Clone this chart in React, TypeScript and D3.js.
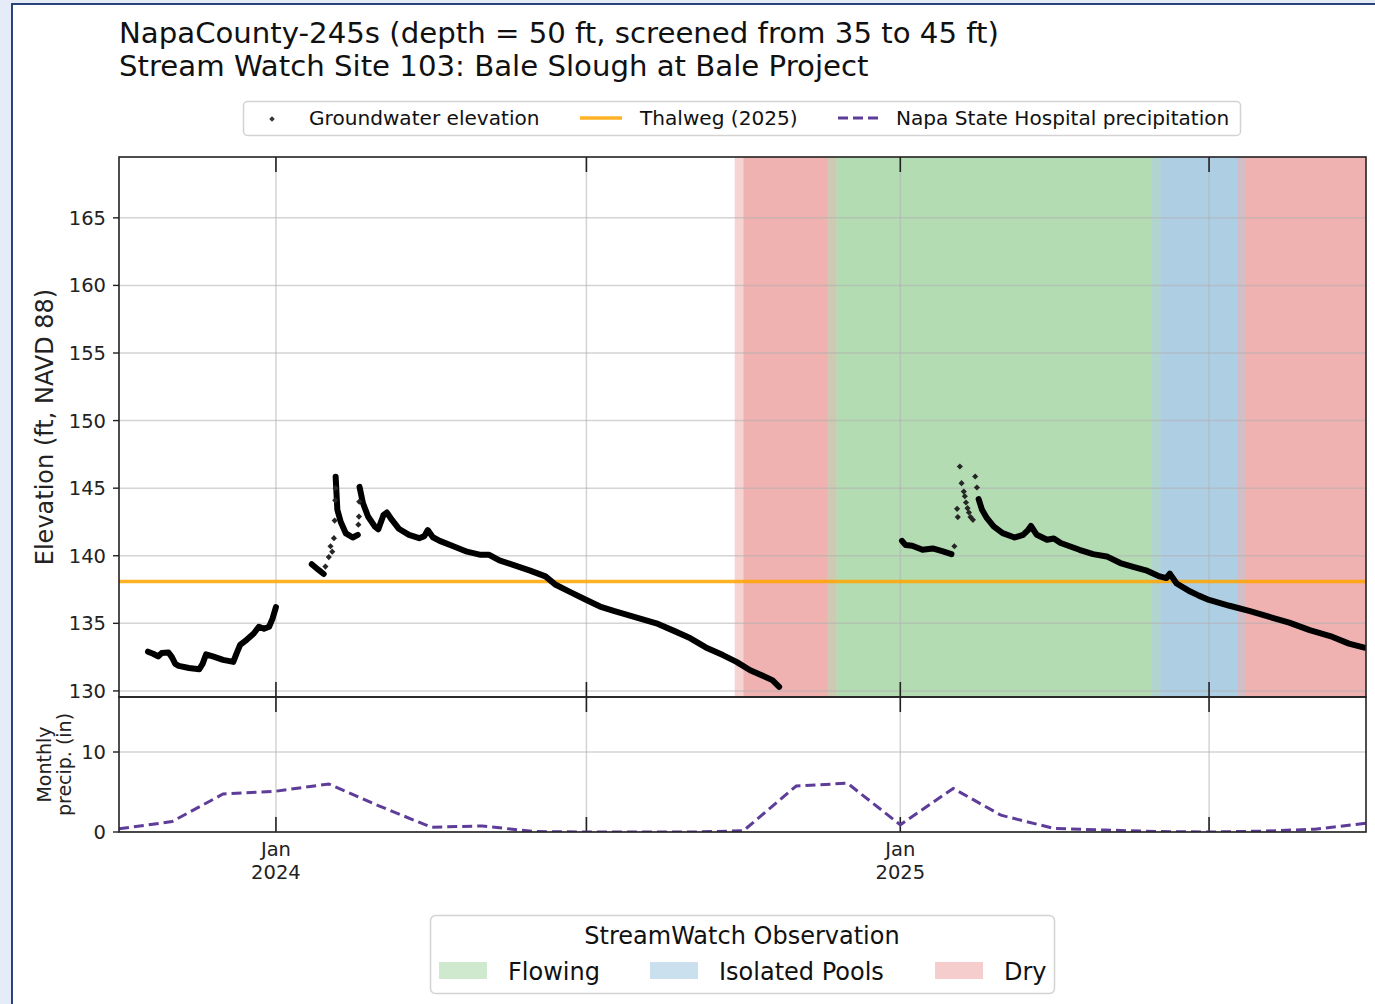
import React from 'react';
import * as d3 from 'd3';

const W = 1375;
const H = 1004;

const titleLines = [
  'NapaCounty-245s (depth = 50 ft, screened from 35 to 45 ft)',
  'Stream Watch Site 103: Bale Slough at Bale Project',
];

const thalwegElevation = 138.1;

// Groundwater elevation, continuous logger traces
const gw2023: [string, number][] = [
  ['2023-10-18', 132.9], ['2023-10-21', 132.75], ['2023-10-24', 132.55], ['2023-10-26', 132.8],
  ['2023-10-30', 132.85], ['2023-11-01', 132.5], ['2023-11-03', 132.0], ['2023-11-05', 131.85],
  ['2023-11-11', 131.7], ['2023-11-17', 131.6], ['2023-11-19', 132.0], ['2023-11-21', 132.7],
  ['2023-11-25', 132.55], ['2023-12-01', 132.3], ['2023-12-07', 132.15], ['2023-12-09', 132.8],
  ['2023-12-11', 133.4], ['2023-12-15', 133.8], ['2023-12-19', 134.25], ['2023-12-22', 134.75],
  ['2023-12-25', 134.6], ['2023-12-28', 134.75], ['2023-12-30', 135.35], ['2024-01-01', 136.2],
];
const gw2024a: [string, number][] = [
  ['2024-01-22', 139.37], ['2024-01-26', 138.95], ['2024-01-29', 138.65],
];
const gw2024b: [string, number][] = [
  ['2024-02-05', 145.85], ['2024-02-06', 143.4], ['2024-02-08', 142.5], ['2024-02-11', 141.65],
  ['2024-02-15', 141.35], ['2024-02-18', 141.55],
];
const gw2024c: [string, number][] = [
  ['2024-02-19', 145.1], ['2024-02-21', 143.9], ['2024-02-24', 142.9], ['2024-02-28', 142.15],
  ['2024-03-01', 141.96], ['2024-03-04', 143.0], ['2024-03-06', 143.2], ['2024-03-09', 142.65],
  ['2024-03-13', 142.0], ['2024-03-19', 141.55], ['2024-03-25', 141.3], ['2024-03-28', 141.45],
  ['2024-03-30', 141.9], ['2024-04-02', 141.37], ['2024-04-06', 141.1], ['2024-04-14', 140.7],
  ['2024-04-22', 140.3], ['2024-04-30', 140.07], ['2024-05-05', 140.07], ['2024-05-11', 139.65],
  ['2024-05-19', 139.33], ['2024-05-29', 138.9], ['2024-06-07', 138.47], ['2024-06-13', 137.85],
  ['2024-06-21', 137.35], ['2024-07-01', 136.73], ['2024-07-09', 136.24], ['2024-07-17', 135.92],
  ['2024-07-23', 135.7], ['2024-08-01', 135.37], ['2024-08-11', 135.0], ['2024-08-21', 134.46],
  ['2024-08-31', 133.89], ['2024-09-09', 133.22], ['2024-09-19', 132.65], ['2024-09-27', 132.15],
  ['2024-10-05', 131.53], ['2024-10-13', 131.09], ['2024-10-18', 130.8], ['2024-10-22', 130.3],
];
const gw2025a: [string, number][] = [
  ['2025-01-02', 141.1], ['2025-01-04', 140.8], ['2025-01-08', 140.74], ['2025-01-14', 140.44],
  ['2025-01-20', 140.54], ['2025-01-26', 140.32], ['2025-01-31', 140.12],
];
const gw2025b: [string, number][] = [
  ['2025-02-15T22', 144.19], ['2025-02-17T22', 143.4], ['2025-02-20T19', 142.78], ['2025-02-24T17', 142.17],
  ['2025-03-02', 141.67], ['2025-03-09', 141.35], ['2025-03-14', 141.55], ['2025-03-17', 141.92],
  ['2025-03-18T14', 142.2], ['2025-03-22', 141.55], ['2025-03-28', 141.18], ['2025-04-01', 141.28],
  ['2025-04-05', 140.94], ['2025-04-16', 140.44], ['2025-04-24', 140.12], ['2025-05-02', 139.95],
  ['2025-05-10', 139.46], ['2025-05-17', 139.2], ['2025-05-25', 138.92], ['2025-06-02', 138.47],
  ['2025-06-06', 138.35], ['2025-06-08', 138.67], ['2025-06-12', 137.95], ['2025-06-20', 137.35],
  ['2025-06-25', 137.05], ['2025-07-01', 136.73], ['2025-07-13', 136.3], ['2025-07-25', 135.91],
  ['2025-08-05', 135.49], ['2025-08-17', 135.05], ['2025-08-29', 134.5], ['2025-09-10', 134.06],
  ['2025-09-21', 133.5], ['2025-09-30', 133.2],
];
// Isolated readings during rapid storm responses
const gwStormReadings: [string, number][] = [
  ['2024-01-30', 139.2], ['2024-02-01', 139.9], ['2024-02-02', 140.7], ['2024-02-03', 140.3],
  ['2024-02-04', 141.3], ['2024-02-04T10', 142.6], ['2024-02-04T18', 144.1], ['2024-02-05T00', 145.0],
  ['2024-02-18T08', 142.3], ['2024-02-18T16', 142.9], ['2024-02-18T20', 144.0],
  ['2025-02-01T17', 140.7], ['2025-02-03T07', 143.47], ['2025-02-03T17', 142.86], ['2025-02-04T22', 146.6],
  ['2025-02-05T22', 145.37], ['2025-02-07T05', 144.75], ['2025-02-07T20', 144.4], ['2025-02-08T12', 143.94],
  ['2025-02-09T10', 143.52], ['2025-02-10T06', 143.2], ['2025-02-11T04', 142.86], ['2025-02-12T14', 142.66],
  ['2025-02-13T22', 145.86], ['2025-02-14T22', 145.05],
];
const gwSegments = [gw2023, gw2024a, gw2024b, gw2024c, gw2025a, gw2025b];

// Monthly precipitation (Napa State Hospital)
const precipMonths = [
  '2023-10-01', '2023-11-01', '2023-12-01', '2024-01-01', '2024-02-01', '2024-03-01', '2024-04-01',
  '2024-05-01', '2024-06-01', '2024-07-01', '2024-08-01', '2024-09-01', '2024-10-01', '2024-11-01',
  '2024-12-01', '2025-01-01', '2025-02-01', '2025-03-01', '2025-04-01', '2025-05-01', '2025-06-01',
  '2025-07-01', '2025-08-01', '2025-09-01', '2025-10-01',
];
const precipInches = [
  0.4, 1.3, 4.75, 5.1, 6.0, 3.3, 0.6,
  0.75, 0.05, 0, 0, 0, 0.15, 5.75,
  6.1, 0.9, 5.45, 2.1, 0.45, 0.25, 0.05,
  0, 0.1, 0.35, 1.1,
];

// StreamWatch observation periods
const obsStatus = ['Dry', 'Flowing', 'Isolated Pools', 'Dry'];
const obsStart = ['2024-09-28T12', '2024-11-22', '2025-05-31', '2025-07-20'];
const obsEnd = ['2024-11-22', '2025-05-31', '2025-07-20', '2025-10-10'];

const elevTicks = [130, 135, 140, 145, 150, 155, 160, 165];
const precipTicks = [0, 10];
const xLabelTicks = ['2024-01-01', '2025-01-01'];
const xGridTicks = ['2024-01-01', '2024-07-01', '2025-01-01', '2025-07-01'];
const xDomain = ['2023-10-01', '2025-10-01'];
const elevDomain = [129.55, 169.5];
const precipDomain = [0, 16.875];

const legendItems = ['Groundwater elevation', 'Thalweg (2025)', 'Napa State Hospital precipitation'];
const statusLegend = ['Flowing', 'Isolated Pools', 'Dry'];

const statusColor: Record<string, string> = {
  Flowing: '#2ca02c',
  'Isolated Pools': '#1f77b4',
  Dry: '#d62728',
};

const pDay = d3.utcParse('%Y-%m-%d');
const pHour = d3.utcParse('%Y-%m-%dT%H');
const parse = (s: string) => (s.length > 10 ? pHour(s) : pDay(s)) as Date;

const FONT = 'DejaVu Sans, Verdana, sans-serif';

export default function App() {
  const L = 119, R = 1366, T = 157, MB = 697, PB = 832;
  const x = d3.scaleUtc().domain(xDomain.map(parse)).range([L, R]);
  const y = d3.scaleLinear().domain(elevDomain).range([MB, T]);
  const yp = d3.scaleLinear().domain(precipDomain).range([PB, MB]);

  const gwLine = d3.line<[string, number]>()
    .x((d) => x(parse(d[0])))
    .y((d) => y(d[1]));
  const pLine = d3.line<number>()
    .x((_, i) => x(parse(precipMonths[i])))
    .y((d) => yp(d));

  const edge = 2.6 * 864e5;
  const bandRects: { x0: number; x1: number; c: string; k: string }[] = [];
  obsStatus.forEach((s, i) => {
    const a = +parse(obsStart[i]);
    const b = +parse(obsEnd[i]);
    bandRects.push({ x0: x(new Date(a - edge)), x1: x(new Date(b + edge)), c: statusColor[s], k: `o${i}` });
    bandRects.push({ x0: x(new Date(a + edge)), x1: x(new Date(b - edge)), c: statusColor[s], k: `i${i}` });
  });

  const diamond = d3.symbol().type(d3.symbolSquare).size(15)() as string;
  const stormMark = d3.symbol().type(d3.symbolSquare).size(19)() as string;

  const grid = '#b0b0b0';
  const tickCol = '#222';

  return (
    <svg width={W} height={H} style={{ position: 'fixed', left: 0, top: 0 }} fontFamily={FONT}>
      <defs>
        <clipPath id="mainClip">
          <rect x={L} y={T} width={R - L} height={MB - T} />
        </clipPath>
        <clipPath id="precipClip">
          <rect x={L} y={MB} width={R - L} height={PB - MB} />
        </clipPath>
      </defs>
      <rect x={0} y={0} width={W} height={H} fill="#e6ecf7" />
      <rect x={12} y={4} width={W + 20} height={H + 20} fill="#ffffff" stroke="#16306e" strokeWidth={1.8} />

      {titleLines.map((t, i) => (
        <text key={t} x={L} y={43 + i * 33} fontSize={29.2} fill="#111">{t}</text>
      ))}

      {/* legend top */}
      <rect x={243.5} y={101.5} width={997} height={34} rx={4} fill="#fff" stroke="#d3d3d3" strokeWidth={1.5} />
      <path d={diamond} transform={`translate(272,119) rotate(45)`} fill="#333" />
      <text x={309} y={125} fontSize={20.1} fill="#111">{legendItems[0]}</text>
      <line x1={580} x2={622} y1={118} y2={118} stroke="#ffa500" strokeOpacity={0.85} strokeWidth={3.5} />
      <text x={640} y={125} fontSize={20.1} fill="#111">{legendItems[1]}</text>
      <line x1={838} x2={880} y1={118} y2={118} stroke="#5e3c99" strokeWidth={3} strokeDasharray="10,5" />
      <text x={896} y={125} fontSize={20.1} fill="#111">{legendItems[2]}</text>

      {/* main axes */}
      <g clipPath="url(#mainClip)">
        {bandRects.map((b) => (
          <rect key={b.k} x={b.x0} y={T} width={Math.max(0, b.x1 - b.x0)} height={MB - T} fill={b.c} fillOpacity={0.2} />
        ))}
      </g>
      {elevTicks.map((v) => (
        <line key={`g${v}`} x1={L} x2={R} y1={y(v)} y2={y(v)} stroke={grid} strokeOpacity={0.55} strokeWidth={1.5} />
      ))}
      {xGridTicks.map((t) => (
        <g key={`vg${t}`}>
          <line x1={x(parse(t))} x2={x(parse(t))} y1={T} y2={PB} stroke={grid} strokeOpacity={0.55} strokeWidth={1.5} />
          <line x1={x(parse(t))} x2={x(parse(t))} y1={T} y2={T + 15} stroke={tickCol} strokeWidth={1.6} />
          <line x1={x(parse(t))} x2={x(parse(t))} y1={MB - 15} y2={MB} stroke={tickCol} strokeWidth={1.6} />
          <line x1={x(parse(t))} x2={x(parse(t))} y1={MB} y2={MB + 15} stroke={tickCol} strokeWidth={1.6} />
          <line x1={x(parse(t))} x2={x(parse(t))} y1={PB - 15} y2={PB} stroke={tickCol} strokeWidth={1.6} />
        </g>
      ))}
      <line x1={L} x2={R} y1={y(thalwegElevation)} y2={y(thalwegElevation)} stroke="#ffa500" strokeOpacity={0.85} strokeWidth={3.5} />
      <g clipPath="url(#mainClip)">
        {gwSegments.map((seg, i) => (
          <path key={`s${i}`} d={gwLine(seg) as string} fill="none" stroke="#000" strokeWidth={6} strokeLinejoin="round" strokeLinecap="round" />
        ))}
        {gwStormReadings.map((d, i) => (
          <path key={`p${i}`} d={stormMark} transform={`translate(${x(parse(d[0]))},${y(d[1])}) rotate(45)`} fill="#262626" />
        ))}
      </g>
      <rect x={L} y={T} width={R - L} height={MB - T} fill="none" stroke="#222" strokeWidth={1.6} />
      {elevTicks.map((v) => (
        <g key={`t${v}`}>
          <line x1={L - 6} x2={L} y1={y(v)} y2={y(v)} stroke={tickCol} strokeWidth={1.4} />
          <text x={L - 13} y={y(v)} dy="0.36em" textAnchor="end" fontSize={19.5} fill="#222">{v}</text>
        </g>
      ))}
      <text transform={`translate(53,${(T + MB) / 2}) rotate(-90)`} textAnchor="middle" fontSize={24} fill="#222">
        Elevation (ft, NAVD 88)
      </text>

      {/* precip axes */}
      {precipTicks.map((v) => (
        <g key={`pt${v}`}>
          <line x1={L} x2={R} y1={yp(v)} y2={yp(v)} stroke={grid} strokeOpacity={0.55} strokeWidth={1.5} />
          <line x1={L - 6} x2={L} y1={yp(v)} y2={yp(v)} stroke={tickCol} strokeWidth={1.4} />
          <text x={L - 13} y={yp(v)} dy="0.36em" textAnchor="end" fontSize={19.5} fill="#222">{v}</text>
        </g>
      ))}
      <g clipPath="url(#precipClip)">
        <path d={pLine(precipInches) as string} fill="none" stroke="#5e3c99" strokeWidth={3} strokeDasharray="10,5" />
      </g>
      <rect x={L} y={MB} width={R - L} height={PB - MB} fill="none" stroke="#222" strokeWidth={1.6} />
      <text transform={`translate(0,${(MB + PB) / 2}) rotate(-90)`} textAnchor="middle" fontSize={19} fill="#222">
        <tspan x={0} y={51}>Monthly</tspan>
        <tspan x={0} y={71}>precip. (in)</tspan>
      </text>

      {xLabelTicks.map((t) => {
        const d = parse(t);
        return (
          <g key={`xl${t}`}>
            <text x={x(d)} y={856} textAnchor="middle" fontSize={19.5} fill="#222">{d3.utcFormat('%b')(d)}</text>
            <text x={x(d)} y={879} textAnchor="middle" fontSize={19.5} fill="#222">{d3.utcFormat('%Y')(d)}</text>
          </g>
        );
      })}

      {/* status legend */}
      <rect x={430.5} y={915.5} width={624} height={78} rx={5} fill="#fff" stroke="#d3d3d3" strokeWidth={1.5} />
      <text x={742} y={944} textAnchor="middle" fontSize={24} fill="#111">StreamWatch Observation</text>
      {statusLegend.map((s, i) => {
        const px = [439, 650, 935][i];
        return (
          <g key={s}>
            <rect x={px} y={962} width={48} height={17} fill={statusColor[s]} fillOpacity={0.23} />
            <text x={px + 69} y={980} fontSize={24} fill="#111">{s}</text>
          </g>
        );
      })}
    </svg>
  );
}
